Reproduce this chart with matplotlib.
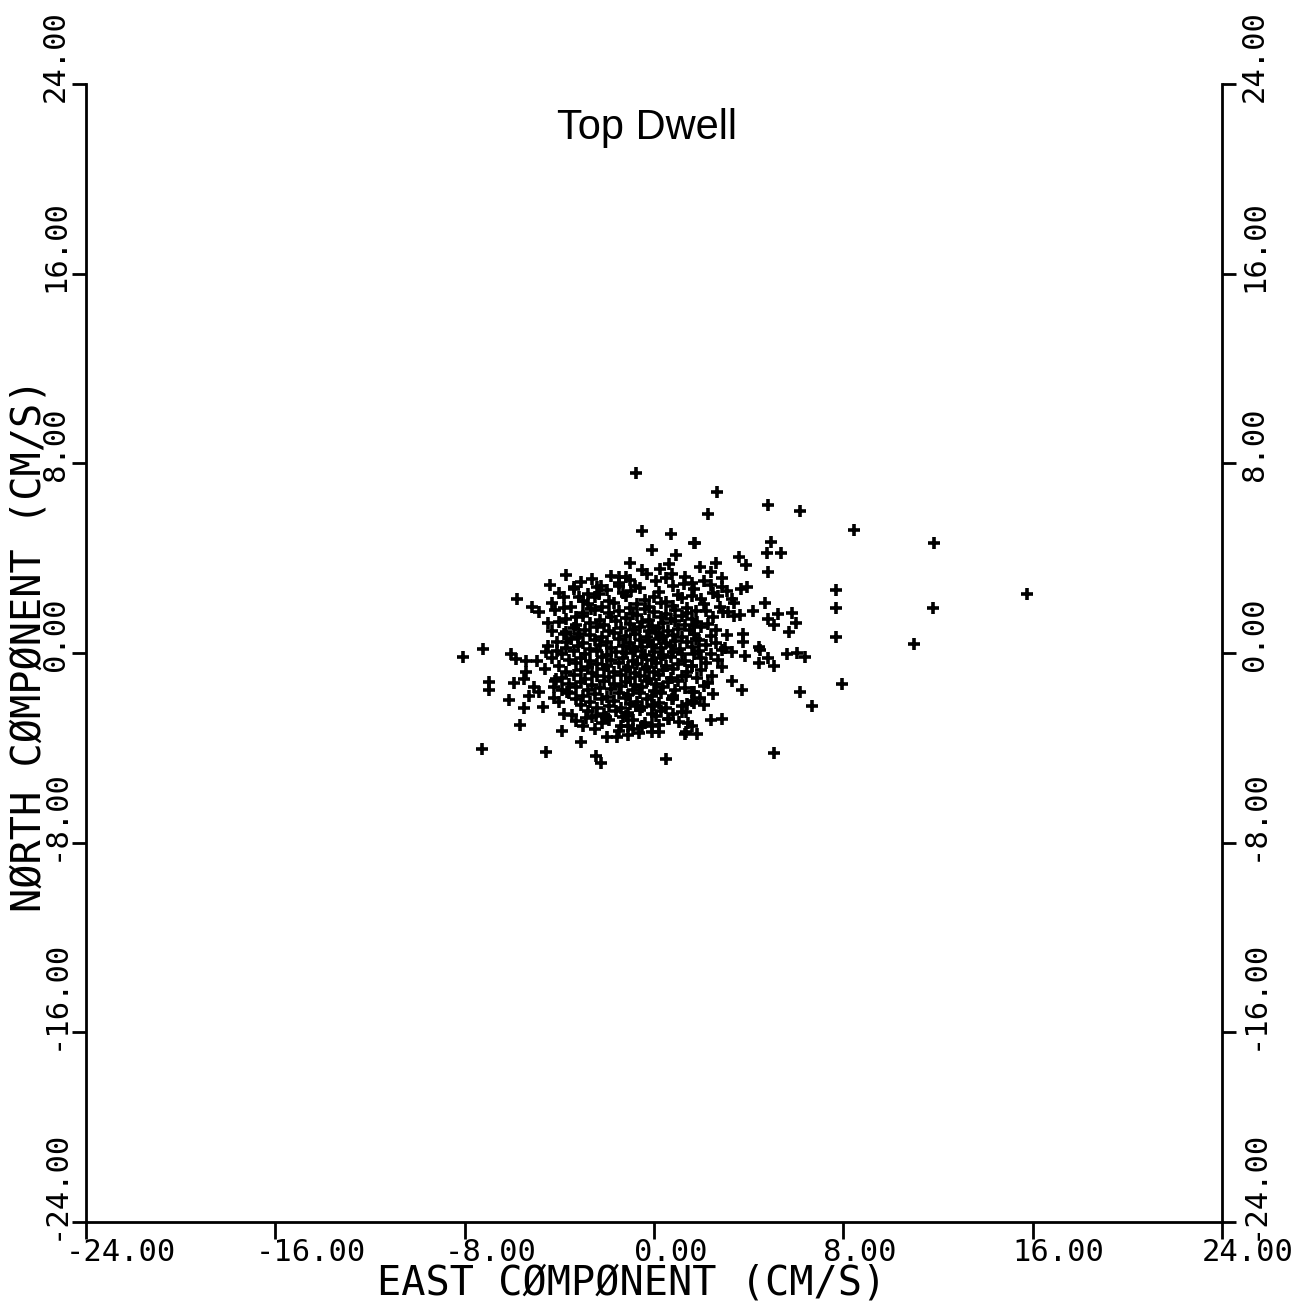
import numpy as np
import matplotlib
matplotlib.use("Agg")
import matplotlib.pyplot as plt
from matplotlib.transforms import offset_copy

# outlying points (east, north) in cm/s
east_outer = [-0.77, -0.52, 0.70, 1.69, -0.07, 0.94, -1.03, -0.52, 0.24, 0.63,
              -1.48, -1.19, -3.38, -2.25, -1.50, -0.98, -3.17, -2.32, -5.80, -5.14,
              -4.85, -4.29, -3.80, -3.31, -2.67, -4.50, -3.73, -3.17, -3.66, -7.21,
              -8.06, -6.05, -5.84, -5.42, -4.93, -4.57, -4.08, -6.99, -6.99, -5.42,
              -5.49, -5.91, -5.07, -4.85, -4.22, -4.15, -6.12, -5.28, -4.22, -3.66,
              -5.49, -4.71, -3.45, -3.31, -2.88, -2.46, -2.04, -5.67, -3.90, -3.09,
              -1.55, -2.46, -2.25, -7.27, -4.55, 0.49, -1.41, -1.19, -0.63, -0.07,
              0.63, -0.49, 0.21, 1.06, 1.34, 1.62, 1.83, -0.77, -0.07, 0.77,
              1.19, 1.41, 1.62, 1.34, 1.62, 1.69, 1.76, 1.69, 1.76, 1.62,
              1.27, 0.77,
              1.93, 2.63, 2.41, 2.88, 2.86, 3.66, 3.94, 3.31, 4.69, 4.18,
              3.12, 3.64, 5.23, 5.84, 4.83, 5.07, 6.01, 5.70, 3.76, 3.76,
              4.43, 4.47, 2.88, 3.31, 3.83, 4.43, 4.83, 5.07, 5.63, 6.05,
              6.40, 2.88, 2.46, 3.31, 3.73, 2.11, 1.69, 1.94, 1.69, 2.39,
              2.88, 1.45, 1.30, 1.20, 1.34, 1.73, 3.59, 3.87, 4.93, 4.76,
              5.35, 4.81, 2.29, 2.67, 4.81, 6.16, 8.47, 11.85, 15.76, 11.78,
              10.98, 7.70, 7.70, 7.67, 7.95, 6.16, 6.66, 5.09]
north_outer = [7.61, 5.15, 5.04, 4.62, 4.35, 4.14, 3.79, 3.50, 3.54, 3.75,
               3.22, 3.22, 2.77, 2.84, 2.84, 2.63, 2.35, 2.49, 2.28, 1.95,
               1.71, 2.11, 1.88, 1.50, 1.85, 1.25, 0.87, 0.80, 0.48, 0.17,
               -0.18, -0.04, -0.25, -0.32, -0.32, 0.03, 0.10, -1.24, -1.55, -0.81,
               -1.10, -1.26, -1.45, -1.66, -1.45, -1.10, -1.97, -1.80, -1.91, -1.66,
               -2.33, -2.29, -2.61, -2.85, -2.75, -2.64, -2.71, -3.03, -3.31, -3.76,
               -3.55, -4.33, -4.64, -4.05, -4.18, -4.47, -3.06, -2.64, -3.37, -3.06,
               -2.78, -3.06, -3.34, -2.92, -3.34, -3.06, -3.41, -2.22, -2.22, -1.94,
               -2.50, -2.15, -1.66, -0.96, -0.54, -0.04, 0.59, 1.15, 1.78, 2.41,
               2.91, 3.33,
               3.64, 3.79, 3.40, 3.15, 2.77, 2.70, 2.79, 2.28, 2.09, 1.77,
               1.74, 1.60, 1.64, 1.69, 1.43, 1.19, 1.25, 0.90, 0.80, 0.48,
               0.24, 0.14, 0.14, 0.06, -0.11, -0.42, -0.22, -0.56, -0.04, -0.01,
               -0.16, -0.60, -0.98, -1.17, -1.55, -1.38, -1.63, -1.91, -2.12, -2.81,
               -2.78, -2.96, -3.43, -2.22, -2.50, 4.64, 4.07, 3.71, 4.69, 4.20,
               4.23, 3.43, 5.86, 6.81, 6.24, 6.00, 5.18, 4.62, 2.50, 1.88,
               0.38, 2.67, 1.90, 0.66, -1.31, -1.66, -2.22, -4.21]

# dense core of the cloud, read band by band: (east values, north values)
core_bands = [
    ([-3.7, -2.6, -1.8, -1.0, -0.3, 0.5, 1.3, 2.1],
     [3.31, 3.12, 3.26, 3.08, 3.35, 3.15, 3.22, 3.05]),
    ([-4.4, -3.1, -2.4, -1.5, -0.8, 0.1, 0.8, 1.6, 2.4],
     [2.86, 3.01, 2.78, 2.95, 2.83, 3.02, 2.81, 2.97, 2.88]),
    ([-4.0, -3.4, -2.8, -2.0, -1.3, -0.6, 0.2, 1.0, 1.7, 2.5, 3.1],
     [2.55, 2.71, 2.48, 2.66, 2.52, 2.73, 2.58, 2.45, 2.69, 2.54, 2.63]),
    ([-3.8, -3.0, -2.5, -1.9, -1.2, -0.4, 0.0, 0.5, 1.2, 2.0, 2.7],
     [2.38, 2.21, 2.35, 2.18, 2.41, 2.25, 2.37, 2.16, 2.33, 2.26, 2.40]),
    ([-3.5, -2.8, -2.2, -1.7, -1.0, -0.7, -0.2, 0.3, 0.8, 1.4, 2.1, 2.8, 3.4],
     [1.93, 2.08, 1.96, 2.11, 1.89, 2.05, 1.92, 2.10, 1.97, 1.88, 2.06, 1.95, 2.09]),
    ([-4.2, -3.0, -2.5, -1.9, -1.5, -0.9, -0.4, 0.0, 0.5, 0.9, 1.4, 2.2, 2.9],
     [1.80, 1.68, 1.83, 1.70, 1.79, 1.64, 1.85, 1.72, 1.66, 1.81, 1.69, 1.78, 1.71]),
    ([-3.7, -3.0, -2.3, -1.8, -1.2, -0.7, -0.2, 0.3, 0.7, 1.2, 1.6, 2.5, 3.4],
     [1.44, 1.56, 1.41, 1.53, 1.47, 1.59, 1.40, 1.52, 1.45, 1.57, 1.43, 1.50, 1.58]),
    ([-4.0, -3.3, -2.7, -2.1, -1.6, -1.0, -0.5, -0.1, 0.4, 0.9, 1.3, 1.8, 2.3],
     [1.31, 1.19, 1.28, 1.17, 1.33, 1.21, 1.29, 1.15, 1.26, 1.34, 1.18, 1.30, 1.22]),
    ([-4.3, -3.4, -2.9, -2.4, -1.9, -1.4, -0.9, -0.6, -0.2, 0.2, 0.6, 1.0, 1.5, 2.0, 2.6],
     [0.94, 1.07, 0.96, 1.09, 0.92, 1.04, 0.98, 1.10, 0.93, 1.05, 0.91, 1.02, 0.95, 1.08, 0.97]),
    ([-3.8, -3.2, -2.7, -2.2, -1.7, -1.2, -0.8, -0.3, 0.1, 0.4, 0.8, 1.2, 1.7, 2.4, 3.1],
     [0.81, 0.69, 0.78, 0.66, 0.83, 0.72, 0.79, 0.67, 0.84, 0.70, 0.76, 0.68, 0.82, 0.73, 0.77]),
    ([-4.1, -3.5, -3.0, -2.5, -2.0, -1.5, -1.0, -0.6, -0.2, 0.2, 0.5, 0.9, 1.4, 1.9, 2.6],
     [0.45, 0.57, 0.43, 0.54, 0.47, 0.59, 0.42, 0.55, 0.46, 0.58, 0.44, 0.52, 0.48, 0.56, 0.41]),
    ([-4.5, -3.7, -3.2, -2.7, -2.3, -1.8, -1.3, -0.9, -0.5, -0.1, 0.3, 0.7, 1.1, 1.6, 2.2, 3.0],
     [0.31, 0.19, 0.28, 0.17, 0.33, 0.21, 0.29, 0.16, 0.27, 0.34, 0.20, 0.30, 0.18, 0.26, 0.32, 0.22]),
    ([-3.9, -3.4, -2.9, -2.4, -2.0, -1.6, -1.2, -0.8, -0.4, 0.0, 0.4, 0.8, 1.2, 1.9, 2.4],
     [-0.06, 0.07, -0.04, 0.09, -0.08, 0.05, -0.02, 0.10, -0.07, 0.04, -0.09, 0.06, -0.03, 0.08, -0.05]),
    ([-4.3, -3.6, -3.1, -2.7, -2.2, -1.8, -1.3, -0.9, -0.5, -0.1, 0.3, 0.7, 1.3, 2.0, 2.7],
     [-0.19, -0.31, -0.22, -0.33, -0.17, -0.29, -0.21, -0.34, -0.18, -0.30, -0.23, -0.16, -0.32, -0.20, -0.28]),
    ([-4.0, -3.3, -2.8, -2.4, -2.0, -1.5, -1.1, -0.7, -0.3, 0.1, 0.5, 1.0, 1.6, 2.2],
     [-0.56, -0.44, -0.58, -0.46, -0.53, -0.41, -0.57, -0.45, -0.59, -0.43, -0.54, -0.47, -0.55, -0.42]),
    ([-4.6, -3.7, -3.1, -2.6, -2.1, -1.7, -1.2, -0.8, -0.4, 0.0, 0.4, 0.8, 1.4, 2.0],
     [-0.69, -0.81, -0.72, -0.84, -0.67, -0.79, -0.70, -0.83, -0.68, -0.80, -0.73, -0.66, -0.82, -0.71]),
    ([-3.9, -3.4, -2.9, -2.4, -1.9, -1.4, -1.0, -0.6, -0.2, 0.2, 0.7, 1.2, 1.8],
     [-1.06, -0.94, -1.08, -0.96, -1.03, -0.91, -1.07, -0.95, -1.09, -0.93, -1.04, -0.97, -1.05]),
    ([-4.2, -3.6, -3.1, -2.6, -2.1, -1.7, -1.2, -0.8, -0.3, 0.1, 0.6, 1.0, 2.3],
     [-1.19, -1.31, -1.22, -1.33, -1.17, -1.29, -1.21, -1.34, -1.18, -1.30, -1.23, -1.16, -1.28]),
    ([-3.9, -3.3, -2.8, -2.3, -1.8, -1.4, -0.9, -0.5, 0.0, 0.4, 0.9, 1.3],
     [-1.56, -1.44, -1.58, -1.46, -1.53, -1.41, -1.57, -1.45, -1.59, -1.43, -1.54, -1.47]),
    ([-3.6, -3.0, -2.5, -2.0, -1.5, -1.1, -0.6, -0.1, 0.3, 0.8, 2.5],
     [-1.69, -1.81, -1.72, -1.84, -1.67, -1.79, -1.70, -1.83, -1.68, -1.80, -1.73]),
    ([-4.0, -3.3, -2.7, -2.2, -1.7, -1.2, -0.7, -0.3, 0.2, 0.8, 1.6],
     [-2.06, -1.94, -2.08, -1.96, -2.03, -1.91, -2.07, -1.95, -2.09, -1.93, -2.04]),
    ([-3.1, -2.4, -1.9, -1.4, -1.0, -0.5, 0.0, 0.5, 2.1],
     [-2.19, -2.31, -2.22, -2.33, -2.17, -2.29, -2.21, -2.34, -2.18]),
    ([-3.8, -2.8, -2.1, -1.6, -1.1, -0.6, -0.1, 0.3, 0.8],
     [-2.56, -2.44, -2.58, -2.46, -2.53, -2.41, -2.57, -2.45, -2.59]),
    ([-2.6, -1.9, -1.3, -0.9, 0.1, 0.6],
     [-2.69, -2.81, -2.72, -2.84, -2.67, -2.79]),
    ([-3.0, -2.2, -1.1, -0.4, 0.2],
     [-3.06, -2.94, -3.08, -2.96, -3.03]),
    ([-2.5, -1.5, -0.9, -0.1],
     [-3.19, -3.31, -3.22, -3.33]),
    ([-2.0, -1.1],
     [-3.56, -3.44]),
]

tick_values = [-24, -16, -8, 0, 8, 16, 24]
tick_labels = ["-24.00", "-16.00", "-8.00", "0.00", "8.00", "16.00", "24.00"]

east = list(east_outer)
north = list(north_outer)
for e_band, n_band in core_bands:
    east += e_band
    north += n_band

mono = "DejaVu Sans Mono"

fig = plt.figure(figsize=(13.16, 13.08), dpi=100)
ax = fig.add_axes([86 / 1316, 86 / 1308, 1136 / 1316, 1138 / 1308])
ax.set_xlim(-24, 24)
ax.set_ylim(-24, 24)

ax.plot(east, north, linestyle="none", marker="+", markersize=9,
        markeredgewidth=2.6, color="black")

for side in ["left", "right", "bottom"]:
    ax.spines[side].set_linewidth(2)
ax.spines["top"].set_visible(False)
ax.set_xticks(tick_values)
ax.set_yticks(tick_values)
ax.tick_params(axis="x", direction="out", length=12, width=2, labelbottom=False)
ax.tick_params(axis="y", direction="out", length=10, width=2, left=True, right=True,
               labelleft=False, labelright=False)

# plotter-style tick labels
for v, lab in zip(tick_values, tick_labels):
    tr = offset_copy(ax.transData, fig=fig, x=-20, y=-16, units="dots")
    ax.text(v, -24, lab, transform=tr, ha="left", va="top", family=mono, fontsize=22,
            clip_on=False)
    trl = offset_copy(ax.get_yaxis_transform(), fig=fig, x=-16, y=-18, units="dots")
    ax.text(0, v, lab, transform=trl, ha="right", va="bottom", rotation=90,
            family=mono, fontsize=22, clip_on=False)
    trr = offset_copy(ax.get_yaxis_transform(), fig=fig, x=18, y=-18, units="dots")
    ax.text(1, v, lab, transform=trr, ha="left", va="bottom", rotation=90,
            family=mono, fontsize=22, clip_on=False)

fig.text(632 / 1316, (1308 - 1283) / 1308, "EAST CØMPØNENT (CM/S)", ha="center",
         va="center", family=mono, fontsize=29)
fig.text(30 / 1316, (1308 - 645) / 1308, "NØRTH CØMPØNENT (CM/S)", ha="center",
         va="center", rotation=90, family=mono, fontsize=29)
fig.text(647 / 1316, (1308 - 128) / 1308, "Top Dwell", ha="center", va="center",
         family="Liberation Sans", fontsize=30)

fig.savefig("out.png", dpi=100)
